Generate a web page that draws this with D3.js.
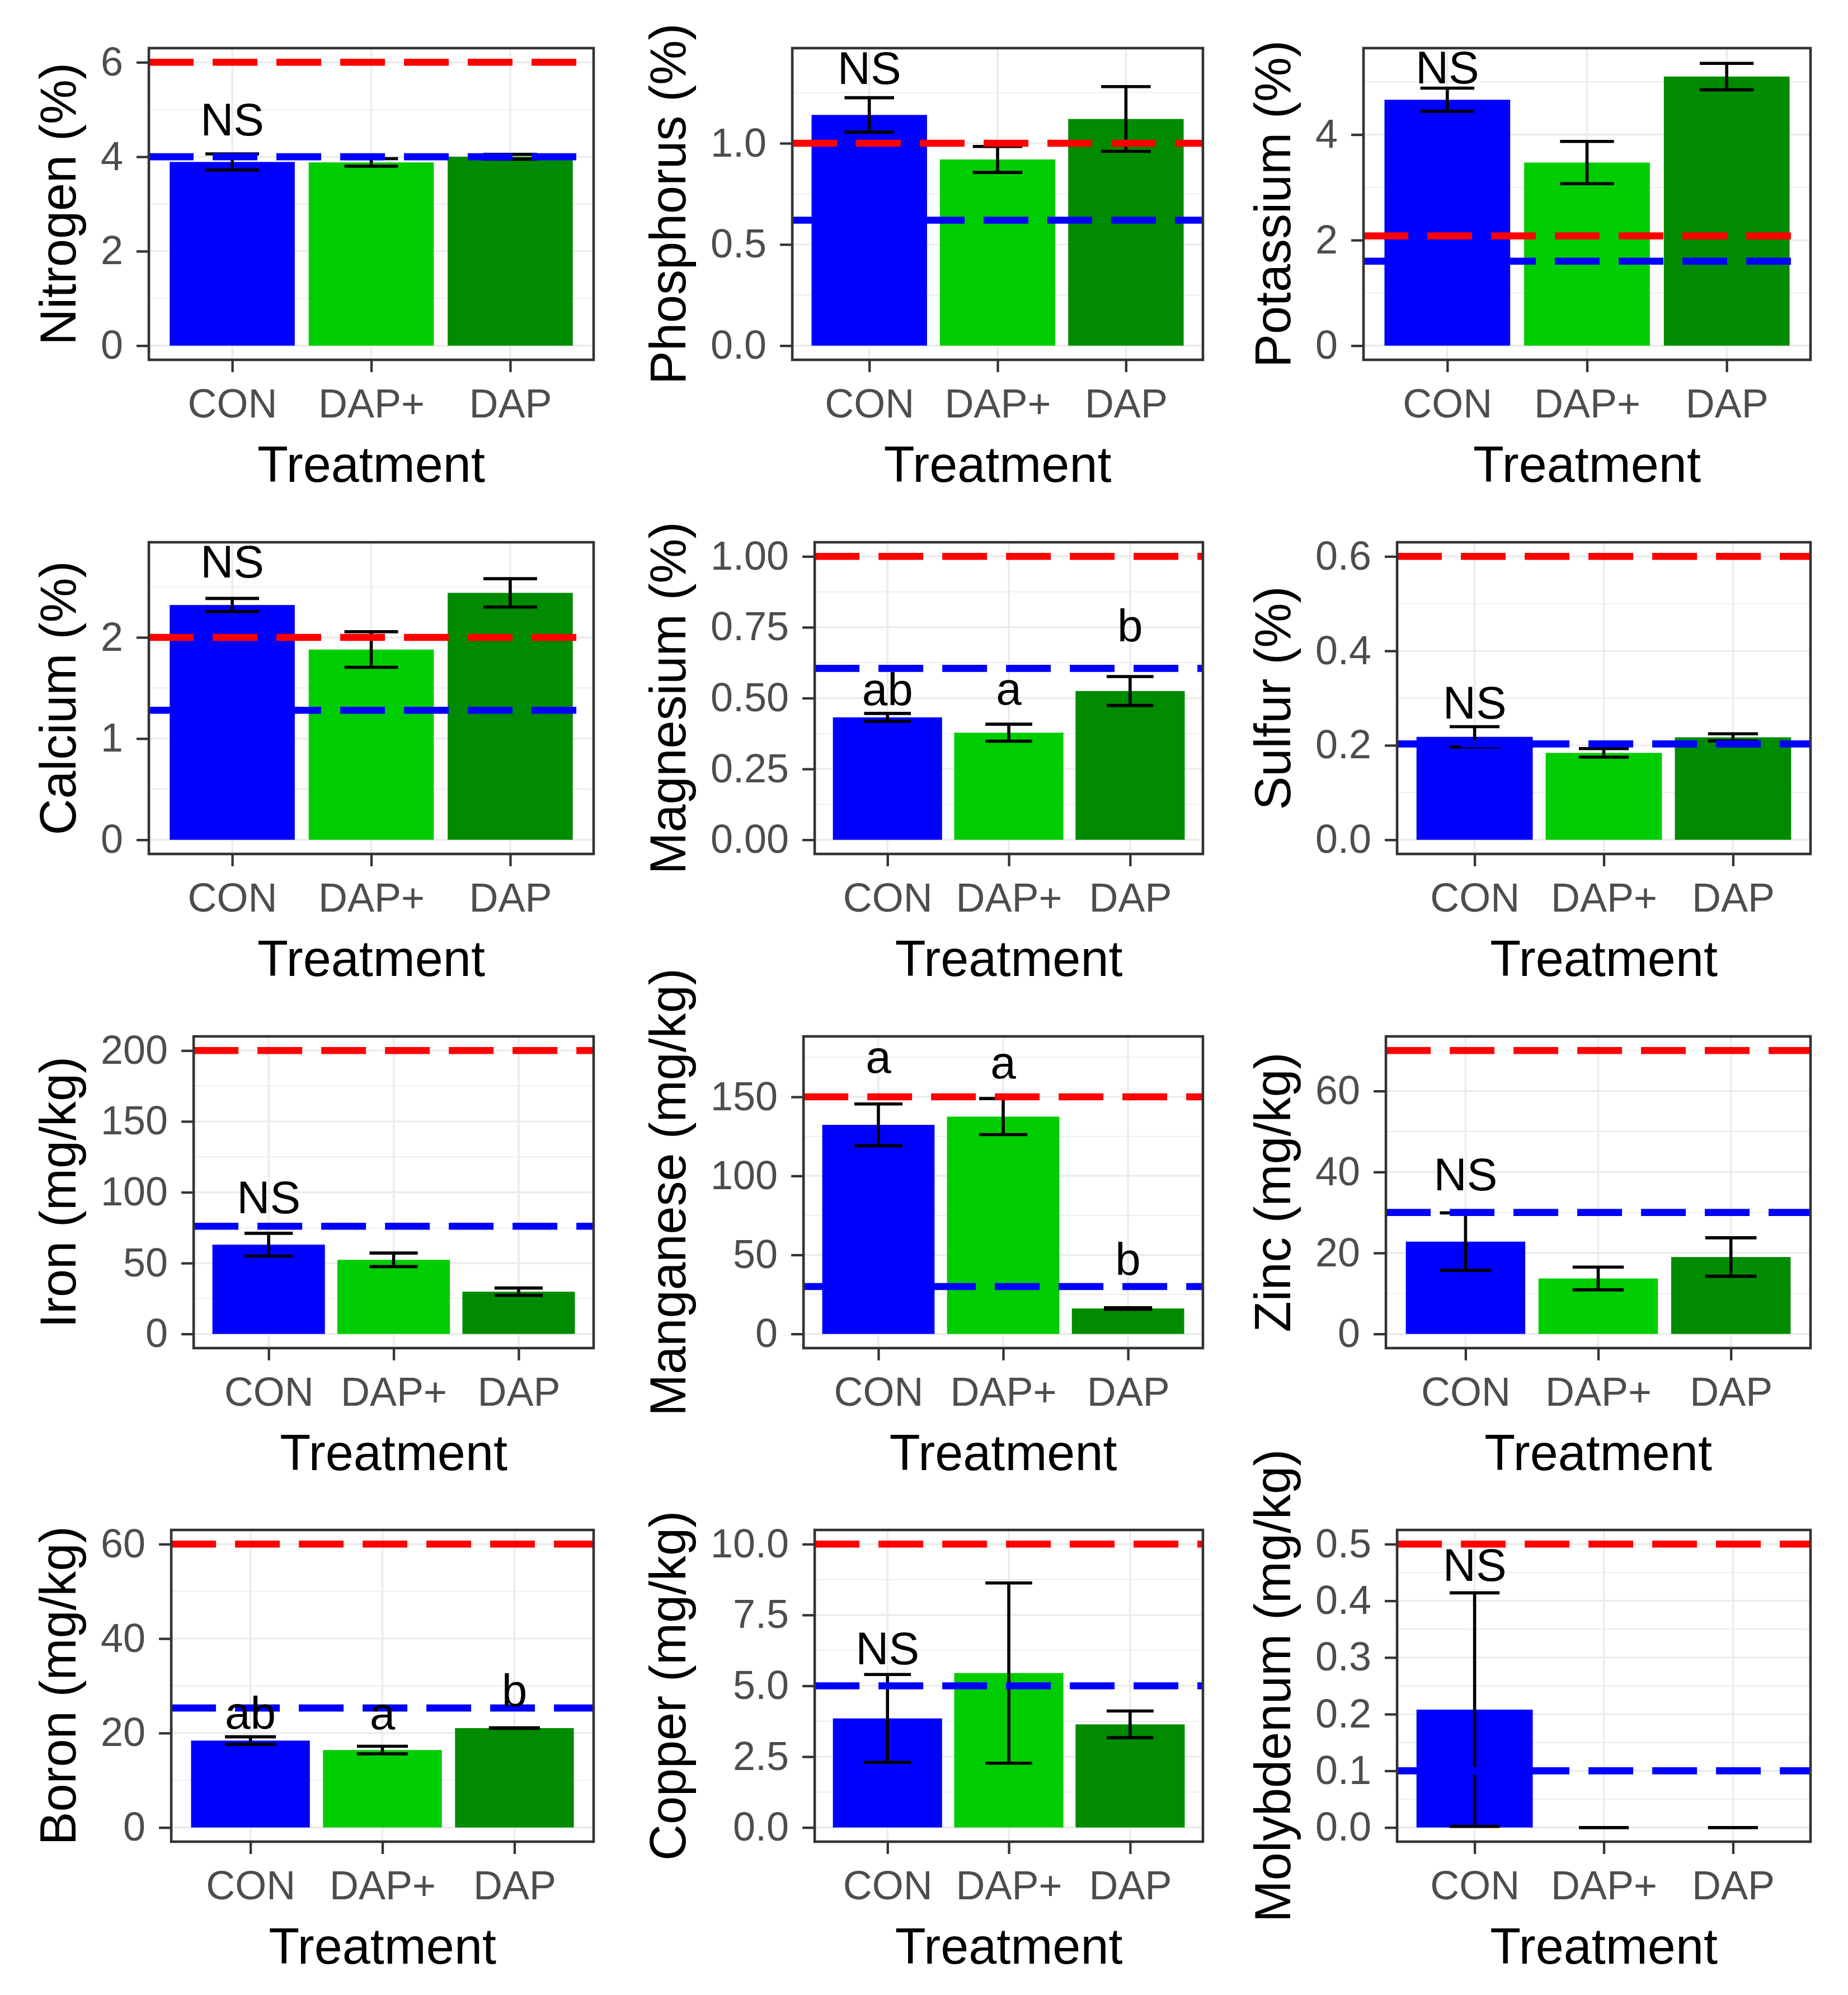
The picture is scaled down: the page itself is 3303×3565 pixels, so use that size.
<!DOCTYPE html>
<html lang="en">
<head>
<meta charset="UTF-8">
<title>Leaf nutrient concentration by treatment</title>
<script src="https://cdn.jsdelivr.net/npm/d3@7"></script>
<style>
    body { margin: 0; background: #fff; }
    svg text { font-family: "Liberation Sans", Arial, sans-serif; }
</style>
</head>
<body>
<svg id="chart" width="3303" height="3565"></svg>
<script>
// ---- data ----
const treatments = ["CON", "DAP+", "DAP"];

const nutrients = [
    "Nitrogen (%)", "Phosphorus (%)", "Potassium (%)",
    "Calcium (%)", "Magnesium (%)", "Sulfur (%)",
    "Iron (mg/kg)", "Manganese (mg/kg)", "Zinc (mg/kg)",
    "Boron (mg/kg)", "Copper (mg/kg)", "Molybdenum (mg/kg)"
];

// bar heights (mean) per nutrient, in treatment order
const meanValues = [
    [3.89, 3.88, 4.00],
    [1.14, 0.92, 1.12],
    [4.66, 3.47, 5.10],
    [2.32, 1.88, 2.44],
    [0.432, 0.378, 0.525],
    [0.218, 0.184, 0.217],
    [63.0, 52.3, 29.8],
    [132.3, 137.5, 16.1],
    [22.8, 13.7, 19.0],
    [18.4, 16.4, 21.05],
    [3.85, 5.45, 3.64],
    [0.208, 0, 0]
];

// half length of the error bars
const seValues = [
    [0.17, 0.08, 0.05],
    [0.085, 0.064, 0.16],
    [0.22, 0.40, 0.25],
    [0.065, 0.176, 0.14],
    [0.014, 0.03, 0.051],
    [0.0215, 0.009, 0.0075],
    [8.0, 4.8, 2.6],
    [13.2, 11.4, 0.5],
    [7.1, 2.8, 4.75],
    [0.8, 0.8, 0.05],
    [1.55, 3.18, 0.47],
    [0.206, 0, 0]
];

// sufficiency range: red = upper, blue = lower
const upperLimit = [6, 1.0, 2.08, 2.0, 1.0, 0.6, 200, 150, 70, 60, 10, 0.5];
const lowerLimit = [4.0, 0.62, 1.6, 1.28, 0.605, 0.203, 76, 30, 30, 25.3, 5.0, 0.1];

// top of the data range for each panel (before the 5% padding)
const yMax = [6, 1.40, 5.37, 2.80, 1.0, 0.6, 200, 179.3, 70, 60, 10, 0.5];

const yTicks = [
    [0, 2, 4, 6],
    [0, 0.5, 1.0],
    [0, 2, 4],
    [0, 1, 2],
    [0, 0.25, 0.5, 0.75, 1.0],
    [0, 0.2, 0.4, 0.6],
    [0, 50, 100, 150, 200],
    [0, 50, 100, 150],
    [0, 20, 40, 60],
    [0, 20, 40, 60],
    [0, 2.5, 5, 7.5, 10],
    [0, 0.1, 0.2, 0.3, 0.4, 0.5]
];
const tickDigits = [0, 1, 0, 0, 2, 1, 0, 0, 0, 0, 1, 1];

// significance letters and the height they sit at
const letterText = [
    ["NS", "", ""], ["NS", "", ""], ["NS", "", ""],
    ["NS", "", ""], ["ab", "a", "b"], ["NS", "", ""],
    ["NS", "", ""], ["a", "a", "b"], ["NS", "", ""],
    ["ab", "a", "b"], ["NS", "", ""], ["NS", "", ""]
];
const letterY = [
    [4.80], [1.374], [5.28],
    [2.756], [0.534, 0.519, 0.758], [0.292],
    [97], [172.8, 169.1, 47.8], [39.5],
    [24.4, 23.4, 29.2], [6.35], [0.464]
];

// ---- layout ----
const fills = ["#0000FF", "#00CD00", "#008B00"];
const titleBaseX = [135, 1225, 2306];
const panelRight = [1061, 2150, 3236];
const panelTop = [86, 969, 1852, 2734];
const panelH = 557;
const tickFont = 72, titleFont = 90, letterFont = 82;

const svg = d3.select("#chart");

nutrients.forEach((name, i) => {
    const row = Math.floor(i / 3), col = i % 3;
    const top = panelTop[row], bottom = top + panelH;
    const right = panelRight[col];
    const g = svg.append("g");
    const fmt = d3.format("." + tickDigits[i] + "f");

    // panel left edge depends on the widest y tick label
    const probe = g.append("g").attr("font-size", tickFont);
    let maxW = 0;
    yTicks[i].forEach(t => {
        const tx = probe.append("text").text(fmt(t));
        maxW = Math.max(maxW, tx.node().getComputedTextLength());
    });
    probe.remove();
    const left = titleBaseX[col] + 45 + maxW + 46;

    const y = d3.scaleLinear()
        .domain([-0.05 * yMax[i], 1.05 * yMax[i]])
        .range([bottom, top]);
    const x = d3.scalePoint()
        .domain(treatments)
        .range([left, right])
        .padding(0.6);
    const step = x.step();

    const clipId = "clip" + i;
    g.append("clipPath").attr("id", clipId)
        .append("rect")
        .attr("x", left).attr("y", top)
        .attr("width", right - left).attr("height", bottom - top);

    const plot = g.append("g").attr("clip-path", `url(#${clipId})`);

    // grid
    const t = yTicks[i];
    const d = t[1] - t[0];
    const minor = d3.range(t[0] - d / 2, t[t.length - 1] + d, d)
        .filter(v => v >= y.domain()[0] && v <= y.domain()[1]);
    plot.selectAll(".minor").data(minor).join("line")
        .attr("x1", left).attr("x2", right)
        .attr("y1", v => y(v)).attr("y2", v => y(v))
        .attr("stroke", "#EBEBEB").attr("stroke-width", 1.8);
    plot.selectAll(".major").data(t).join("line")
        .attr("x1", left).attr("x2", right)
        .attr("y1", v => y(v)).attr("y2", v => y(v))
        .attr("stroke", "#EBEBEB").attr("stroke-width", 3.4);
    plot.selectAll(".vgrid").data(treatments).join("line")
        .attr("x1", c => x(c)).attr("x2", c => x(c))
        .attr("y1", top).attr("y2", bottom)
        .attr("stroke", "#EBEBEB").attr("stroke-width", 3.4);

    const rows = treatments.map((c, k) => ({
        cat: c, mean: meanValues[i][k], se: seValues[i][k], fill: fills[k]
    }));

    // bars
    plot.selectAll(".bar").data(rows).join("rect")
        .attr("x", r => x(r.cat) - 0.45 * step)
        .attr("width", 0.9 * step)
        .attr("y", r => y(r.mean))
        .attr("height", r => y(0) - y(r.mean))
        .attr("fill", r => r.fill);

    // error bars
    const eb = plot.selectAll(".eb").data(rows).join("g")
        .attr("stroke", "#000").attr("stroke-width", 5.6).attr("fill", "none");
    eb.append("line")
        .attr("x1", r => x(r.cat)).attr("x2", r => x(r.cat))
        .attr("y1", r => y(r.mean + r.se)).attr("y2", r => y(r.mean - r.se));
    eb.append("line")
        .attr("x1", r => x(r.cat) - 0.193 * step).attr("x2", r => x(r.cat) + 0.193 * step)
        .attr("y1", r => y(r.mean + r.se)).attr("y2", r => y(r.mean + r.se));
    eb.append("line")
        .attr("x1", r => x(r.cat) - 0.193 * step).attr("x2", r => x(r.cat) + 0.193 * step)
        .attr("y1", r => y(r.mean - r.se)).attr("y2", r => y(r.mean - r.se));

    // sufficiency lines
    [[upperLimit[i], "#FF0000"], [lowerLimit[i], "#0000FF"]].forEach(([v, c]) => {
        plot.append("line")
            .attr("x1", left).attr("x2", right)
            .attr("y1", y(v)).attr("y2", y(v))
            .attr("stroke", c).attr("stroke-width", 12.6)
            .attr("stroke-dasharray", "80,34");
    });

    // letters
    letterText[i].forEach((txt, k) => {
        if (!txt) return;
        plot.append("text")
            .attr("x", x(treatments[k]))
            .attr("y", y(letterY[i][k]))
            .attr("dy", /^[aceosuvxz]+$/.test(txt) ? "0.26em" : "0.36em")
            .attr("text-anchor", "middle")
            .attr("font-size", letterFont)
            .attr("fill", "#000")
            .text(txt);
    });

    // panel border
    g.append("rect")
        .attr("x", left).attr("y", top)
        .attr("width", right - left).attr("height", bottom - top)
        .attr("fill", "none").attr("stroke", "#333333").attr("stroke-width", 4.6);

    // axes
    const yAxis = g.append("g")
        .attr("transform", `translate(${left},0)`)
        .call(d3.axisLeft(y).tickValues(t).tickFormat(fmt).tickSize(22).tickPadding(24));
    const xAxis = g.append("g")
        .attr("transform", `translate(0,${bottom})`)
        .call(d3.axisBottom(x).tickSize(22).tickPadding(30));
    [yAxis, xAxis].forEach(ax => {
        ax.select(".domain").remove();
        ax.attr("font-size", tickFont).attr("font-family", null);
        ax.selectAll(".tick line").attr("stroke", "#333333").attr("stroke-width", 4.3);
        ax.selectAll(".tick text").attr("fill", "#4D4D4D");
    });

    // axis titles
    g.append("text")
        .attr("x", (left + right) / 2)
        .attr("y", bottom + 218)
        .attr("text-anchor", "middle")
        .attr("font-size", titleFont)
        .attr("fill", "#000")
        .text("Treatment");
    g.append("text")
        .attr("transform", `translate(${titleBaseX[col]},${(top + bottom) / 2}) rotate(-90)`)
        .attr("text-anchor", "middle")
        .attr("font-size", titleFont)
        .attr("fill", "#000")
        .text(name);
});
</script>
</body>
</html>
